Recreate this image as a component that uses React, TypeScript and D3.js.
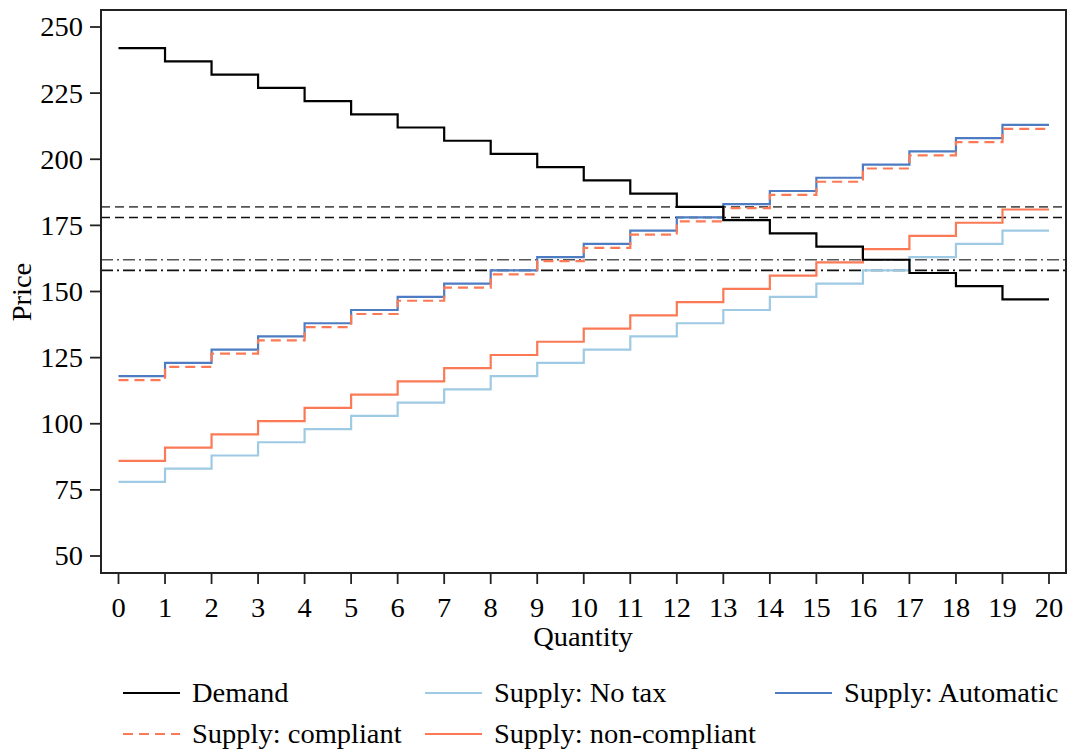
import React from "react";
import * as d3 from "d3";

const quantities = d3.range(0, 21);
const yTicks = [50, 75, 100, 125, 150, 175, 200, 225, 250];
const demand = [242, 237, 232, 227, 222, 217, 212, 207, 202, 197, 192, 187, 182, 177, 172, 167, 162, 157, 152, 147];
const supplyNoTax = [78, 83, 88, 93, 98, 103, 108, 113, 118, 123, 128, 133, 138, 143, 148, 153, 158, 163, 168, 173];
const supplyNonCompliant = [86, 91, 96, 101, 106, 111, 116, 121, 126, 131, 136, 141, 146, 151, 156, 161, 166, 171, 176, 181];
const supplyAutomatic = [118, 123, 128, 133, 138, 143, 148, 153, 158, 163, 168, 173, 178, 183, 188, 193, 198, 203, 208, 213];
const supplyCompliant = [116.5, 121.5, 126.5, 131.5, 136.5, 141.5, 146.5, 151.5, 156.5, 161.5, 166.5, 171.5, 176.5, 181.5, 186.5, 191.5, 196.5, 201.5, 206.5, 211.5];
const refDashed = [182, 178];
const refDashDot = [162, 158];

const FONT = "'Liberation Serif', 'Times New Roman', serif";
const FS = 27;
const SX = 1.055;

const series = [
  { name: "Supply: No tax", values: supplyNoTax, color: "#9ecae4", dash: "" },
  { name: "Supply: non-compliant", values: supplyNonCompliant, color: "#fb7a55", dash: "" },
  { name: "Supply: Automatic", values: supplyAutomatic, color: "#4d7cc2", dash: "" },
  { name: "Supply: compliant", values: supplyCompliant, color: "#fb7a55", dash: "10,6" },
  { name: "Demand", values: demand, color: "#000000", dash: "" },
];

function T(props: { x: number; y: number; anchor?: string; dy?: string; children: React.ReactNode }) {
  return (
    <text
      transform={`translate(${props.x},${props.y}) scale(${SX},1)`}
      dy={props.dy}
      textAnchor={props.anchor || "start"}
      fontSize={FS}
      fill="#000"
    >
      {props.children}
    </text>
  );
}

export default function App() {
  const W = 1067, H = 749;
  const frame = { l: 101, r: 1066, t: 10, b: 573 };
  const x = d3.scaleLinear().domain([0, 20]).range([118.5, 1049]);
  const y = d3.scaleLinear().domain([50, 250]).range([556, 27]);

  const line = d3
    .line<[number, number]>()
    .x((d) => x(d[0]))
    .y((d) => y(d[1]))
    .curve(d3.curveStepAfter);

  const pts = (vals: number[]): [number, number][] => {
    const p: [number, number][] = vals.map((v, i) => [i, v]);
    p.push([vals.length, vals[vals.length - 1]]);
    return p;
  };

  const legendItems = [
    { name: "Demand", color: "#000000", dash: "", lx: 123, ly: 693 },
    { name: "Supply: No tax", color: "#9ecae4", dash: "", lx: 425, ly: 693 },
    { name: "Supply: Automatic", color: "#4d7cc2", dash: "", lx: 775, ly: 693 },
    { name: "Supply: compliant", color: "#fb7a55", dash: "10,6", lx: 123, ly: 734 },
    { name: "Supply: non-compliant", color: "#fb7a55", dash: "", lx: 425, ly: 734 },
  ];

  return (
    <svg width={W} height={H} style={{ position: "absolute", left: 0, top: 0, background: "#fff" }} fontFamily={FONT}>
      <rect x={0} y={0} width={W} height={H} fill="#fff" />
      {refDashed.map((v, i) => (
        <line key={"d" + i} x1={frame.l} x2={frame.r} y1={y(v)} y2={y(v)} stroke={i === 0 ? "#555" : "#111"} strokeWidth={1.6} strokeDasharray="9,5" />
      ))}
      {refDashDot.map((v, i) => (
        <line key={"dd" + i} x1={frame.l} x2={frame.r} y1={y(v)} y2={y(v)} stroke={i === 0 ? "#555" : "#111"} strokeWidth={1.6} strokeDasharray="12,4,2,4" />
      ))}
      {series.map((s) => (
        <path key={s.name} d={line(pts(s.values)) || ""} fill="none" stroke={s.color} strokeWidth={2.2} strokeDasharray={s.dash || undefined} />
      ))}
      <rect x={frame.l} y={frame.t} width={frame.r - frame.l} height={frame.b - frame.t} fill="none" stroke="#222" strokeWidth={2} />
      {yTicks.map((t) => (
        <g key={"y" + t}>
          <line x1={frame.l - 11} x2={frame.l} y1={y(t)} y2={y(t)} stroke="#222" strokeWidth={1.8} />
          <T x={frame.l - 18} y={y(t)} dy="0.35em" anchor="end">
            {t}
          </T>
        </g>
      ))}
      {quantities.map((q) => (
        <g key={"x" + q}>
          <line x1={x(q)} x2={x(q)} y1={frame.b} y2={frame.b + 11} stroke="#222" strokeWidth={1.8} />
          <T x={x(q)} y={617} anchor="middle">
            {q}
          </T>
        </g>
      ))}
      <T x={583} y={646} anchor="middle">
        Quantity
      </T>
      <text transform={`translate(31,292) rotate(-90) scale(${SX},1)`} textAnchor="middle" fontSize={FS} fill="#000">
        Price
      </text>
      {legendItems.map((it) => (
        <g key={"l" + it.name}>
          <line x1={it.lx} x2={it.lx + 57} y1={it.ly} y2={it.ly} stroke={it.color} strokeWidth={2.2} strokeDasharray={it.dash || undefined} />
          <T x={it.lx + 69} y={it.ly + 9}>
            {it.name}
          </T>
        </g>
      ))}
    </svg>
  );
}
